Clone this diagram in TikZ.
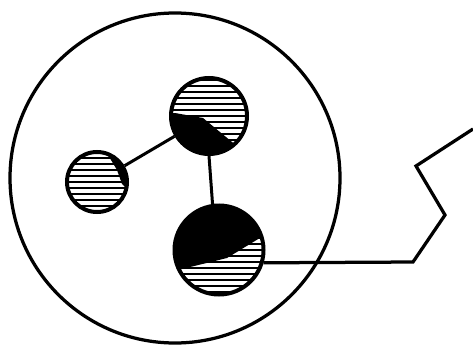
\documentclass[tikz,border=0pt]{standalone}
\usetikzlibrary{positioning}

\begin{document}
\begin{tikzpicture}[x=0.2mm, y=-0.2mm,
      cell/.style={circle,draw,line width=0.65mm,minimum size=66mm,inner sep=0pt},
      ball/.style={circle,draw,line width=0.8mm,inner sep=0pt},
      hatch/.style={line width=0.55mm},
      bond/.style={line width=0.6mm},
      wire/.style={line width=0.65mm,line join=miter}]
    \useasboundingbox (0,0) rectangle (473,347);

    \node[cell] (cell) at (175,178) {};

    % hatching of the three balls
    \foreach \cx/\cy/\r in {209/116/37,97/182/29,219/250/43.5}
      \foreach \d in {-42,-36,...,42} {
        \pgfmathsetmacro\w{sqrt(max(\r*\r-\d*\d,0))}
        \draw[hatch] (\cx-\w,\cy+\d) -- (\cx+\w,\cy+\d);
      }

    % dark parts
    \fill (170.9,113) -- (175,113) -- (203,118) -- (232,142) -- (234.7,144.3)
      arc[start angle=47.7, end angle=184.5, radius=38.25] -- cycle;
    \fill (106,152.5) -- (111,160) -- (117,170) -- (122,184) -- (126.6,188.5)
      arc[start angle=12.4, end angle=-73, radius=30.25] -- cycle;
    \fill (178.5,269) -- (182,269) -- (227,258) -- (261.8,236.8)
      arc[start angle=-17.2, end angle=-205.1, radius=44.75] -- cycle;

    % the three balls
    \node[ball,minimum size=15.2mm] (top) at (209,116) {};
    \node[ball,minimum size=12mm] (left) at (97,182) {};
    \node[ball,minimum size=17.8mm] (bottom) at (219,250) {};

    \draw[bond] (left) -- (top);
    \draw[bond] (top.south) -- (bottom.98);

    % lead going out to the right
    \coordinate (w1) at (413,262);
    \coordinate (w2) at (445,215);
    \coordinate (w3) at (416,166);
    \coordinate (w4) at (473,129);
    \draw[wire] (bottom.-16) -- (w1) -- (w2) -- (w3) -- (w4);
\end{tikzpicture}
\end{document}
